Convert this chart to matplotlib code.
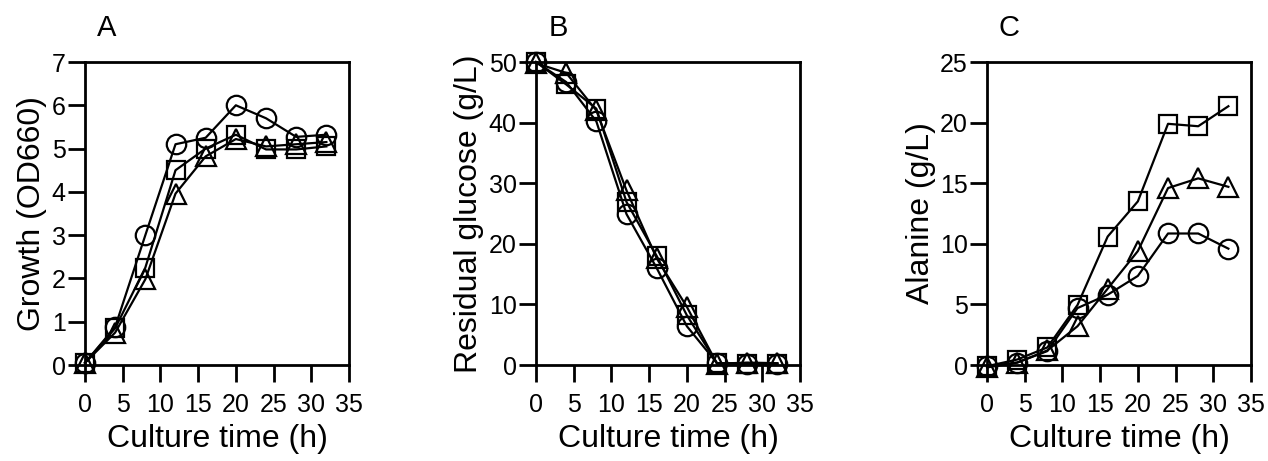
import matplotlib
matplotlib.use('Agg')
import matplotlib.pyplot as plt

plt.rcParams['font.family'] = ['Liberation Sans', 'DejaVu Sans']

# Sampling times (h)
time_h = [0, 4, 8, 12, 16, 20, 24, 28, 32]

# A: growth (OD660)
growth_circle = [0.05, 0.88, 3.0, 5.1, 5.25, 6.0, 5.7, 5.27, 5.32]
growth_square = [0.05, 0.85, 2.25, 4.5, 5.0, 5.32, 4.98, 4.98, 5.05]
growth_triangle = [0.05, 0.75, 1.98, 3.96, 4.82, 5.22, 5.05, 5.1, 5.15]

# B: residual glucose (g/L)
glucose_circle = [50.0, 46.7, 40.2, 24.9, 16.0, 6.4, 0.3, 0.2, 0.2]
glucose_square = [50.0, 46.3, 42.3, 26.9, 18.0, 8.2, 0.3, 0.2, 0.2]
glucose_triangle = [49.8, 48.2, 42.0, 28.8, 17.6, 9.6, 0.2, 0.4, 0.3]

# C: alanine (g/L)
alanine_circle = [-0.1, 0.2, 1.15, 4.7, 5.8, 7.35, 10.85, 10.85, 9.6]
alanine_square = [-0.1, 0.45, 1.45, 4.95, 10.6, 13.5, 19.9, 19.7, 21.35]
alanine_triangle = [-0.2, 0.2, 1.2, 3.2, 6.3, 9.4, 14.6, 15.4, 14.7]

panels = [
    ('A', 'Growth (OD660)', (0, 7), range(0, 8),
     [growth_circle, growth_square, growth_triangle]),
    ('B', 'Residual glucose (g/L)', (0, 50), range(0, 51, 10),
     [glucose_circle, glucose_square, glucose_triangle]),
    ('C', 'Alanine (g/L)', (0, 25), range(0, 26, 5),
     [alanine_circle, alanine_square, alanine_triangle]),
]

markers = [('o', 14), ('s', 13), ('^', 14)]

fig = plt.figure(figsize=(12.68, 4.61), dpi=100)
lefts = [85, 536, 987]
for (letter, ylabel, ylim, yticks, series), left in zip(panels, lefts):
    ax = fig.add_axes([left / 1268, 1 - 365 / 461, 264 / 1268, 303 / 461])
    for vals, (m, ms) in zip(series, markers):
        ax.plot(time_h, vals, color='black', lw=1.6, marker=m, ms=ms,
                mfc='none', mec='black', mew=1.6, clip_on=False, zorder=3)
    ax.set_xlim(0, 35)
    ax.set_ylim(*ylim)
    ax.set_xticks(range(0, 36, 5))
    ax.set_yticks(list(yticks))
    ax.tick_params(direction='out', length=12, width=2, labelsize=18)
    ax.tick_params(axis='x', pad=8)
    ax.tick_params(axis='y', pad=2)
    for s in ax.spines.values():
        s.set_linewidth(2)
    ax.set_xlabel('Culture time (h)', fontsize=23, labelpad=5)
    ax.set_ylabel(ylabel, fontsize=23, labelpad=3)
    ax.text(0.083, 1.112, letter, transform=ax.transAxes, fontsize=21,
            ha='center', va='center')

fig.savefig('out.png', dpi=100)
